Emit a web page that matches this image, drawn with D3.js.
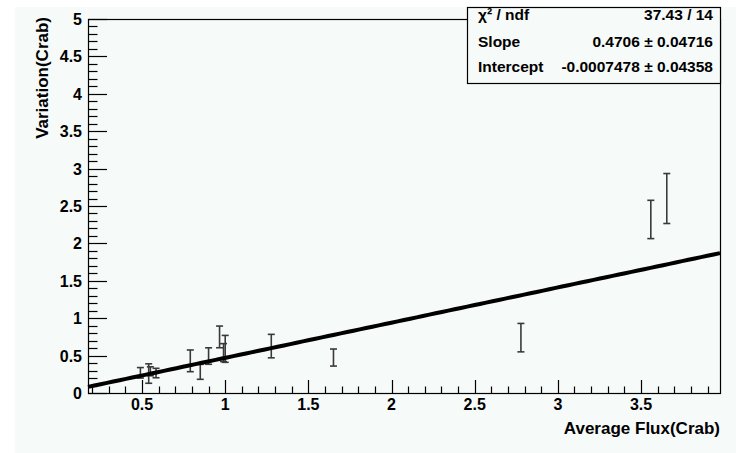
<!DOCTYPE html>
<html>
<head>
<meta charset="utf-8">
<script src="https://cdn.jsdelivr.net/npm/d3@7"></script>
<style>
  html, body { margin: 0; padding: 0; background: #ffffff; }
  svg { display: block; }
  text { font-family: "Liberation Sans", Arial, Helvetica, sans-serif; font-weight: bold; fill: #000; }
</style>
</head>
<body>
<svg id="chart" width="736" height="453"></svg>
<script>
// Measured points: average flux vs variation, both in Crab units
const fluxValues      = [0.49, 0.54, 0.55, 0.584, 0.79, 0.85, 0.90, 0.966, 0.99, 1.00, 1.277, 1.651, 2.778, 3.559, 3.655];
const variationValues = [0.27, 0.26, 0.29, 0.267, 0.43, 0.283, 0.494, 0.75, 0.54, 0.59, 0.627, 0.474, 0.74, 2.32, 2.60];
const variationErrors = [0.07, 0.13, 0.06, 0.063, 0.145, 0.10, 0.11, 0.145, 0.12, 0.18, 0.157, 0.114, 0.19, 0.256, 0.334];

// Linear fit result
const fitSlope = 0.4706;
const fitIntercept = -0.0007478;

// Axis ranges and labels
const xDomain = [0.175, 3.975];
const yDomain = [0, 5];
const xTickValues = [0.5, 1, 1.5, 2, 2.5, 3, 3.5];
const xTickLabels = ["0.5", "1", "1.5", "2", "2.5", "3", "3.5"];
const yTickValues = [0, 0.5, 1, 1.5, 2, 2.5, 3, 3.5, 4, 4.5, 5];
const yTickLabels = ["0", "0.5", "1", "1.5", "2", "2.5", "3", "3.5", "4", "4.5", "5"];

// Fit statistics box rows
const statNames  = ["\u03C7\u00B2 / ndf", "Slope", "Intercept"];
const statValues = ["37.43 / 14", "0.4706 \u00B1 0.04716", "-0.0007478 \u00B1 0.04358"];

const svg = d3.select("#chart");
const bg = "#f6faf8";

// canvas
svg.append("rect").attr("x", 15).attr("y", 7).attr("width", 721).attr("height", 446).attr("fill", bg);

const frame = { left: 88, right: 720, top: 19, bottom: 393 };
const x = d3.scaleLinear().domain(xDomain).range([frame.left, frame.right]);
const y = d3.scaleLinear().domain(yDomain).range([frame.bottom, frame.top]);

// plot frame
svg.append("rect")
  .attr("x", frame.left + 0.5).attr("y", frame.top + 0.5)
  .attr("width", frame.right - frame.left).attr("height", frame.bottom - frame.top)
  .attr("fill", bg).attr("stroke", "#000").attr("stroke-width", 1.2);

const isMajor = (vals, d) => vals.some(v => Math.abs(v - d) < 1e-6);

// x axis ticks (drawn inward, upward)
const xMinor = x.ticks(40);
svg.append("g").selectAll("line").data(xMinor).join("line")
  .attr("x1", d => Math.round(x(d)) + 0.5).attr("x2", d => Math.round(x(d)) + 0.5)
  .attr("y1", frame.bottom).attr("y2", d => frame.bottom - (isMajor(xTickValues, d) ? 13 : 6.5))
  .attr("stroke", "#000").attr("stroke-width", 1.2);

svg.append("g").selectAll("text").data(xTickValues).join("text")
  .attr("x", d => x(d)).attr("y", 410)
  .attr("text-anchor", "middle").attr("font-size", 16)
  .text((d, i) => xTickLabels[i]);

// y axis ticks (drawn inward, rightward)
const yMinor = y.ticks(50);
svg.append("g").selectAll("line").data(yMinor).join("line")
  .attr("y1", d => Math.round(y(d)) + 0.5).attr("y2", d => Math.round(y(d)) + 0.5)
  .attr("x1", frame.left).attr("x2", d => frame.left + (isMajor(yTickValues, d) ? 19 : 9.5))
  .attr("stroke", "#000").attr("stroke-width", 1.2);

svg.append("g").selectAll("text").data(yTickValues).join("text")
  .attr("x", 82).attr("y", d => y(d) + 6)
  .attr("text-anchor", "end").attr("font-size", 16)
  .text((d, i) => yTickLabels[i]);

// axis titles
svg.append("text")
  .attr("x", 720).attr("y", 434)
  .attr("text-anchor", "end").attr("font-size", 17)
  .text("Average Flux(Crab)");

svg.append("text")
  .attr("transform", "translate(48,17) rotate(-90)")
  .attr("text-anchor", "end").attr("font-size", 17)
  .text("Variation(Crab)");

// error bars
const pts = fluxValues.map((f, i) => ({ f, v: variationValues[i], e: variationErrors[i] }));
const eb = svg.append("g").attr("stroke", "#3a3a3a").attr("stroke-width", 1.6);
pts.forEach(p => {
  const cx = x(p.f), y0 = y(p.v - p.e), y1 = y(p.v + p.e);
  eb.append("line").attr("x1", cx).attr("x2", cx).attr("y1", y0).attr("y2", y1);
  eb.append("line").attr("x1", cx - 3.5).attr("x2", cx + 3.5).attr("y1", y0).attr("y2", y0);
  eb.append("line").attr("x1", cx - 3.5).attr("x2", cx + 3.5).attr("y1", y1).attr("y2", y1);
});

// fit line
const fitX = d3.range(0, 101).map(i => xDomain[0] + (xDomain[1] - xDomain[0]) * i / 100);
svg.append("path")
  .datum(fitX)
  .attr("fill", "none").attr("stroke", "#000").attr("stroke-width", 4)
  .attr("d", d3.line().x(d => x(d)).y(d => y(fitSlope * d + fitIntercept)));

// statistics box
const box = { x: 467, y: 7, w: 253, h: 76 };
svg.append("rect")
  .attr("x", box.x + 0.5).attr("y", box.y + 0.5).attr("width", box.w).attr("height", box.h)
  .attr("fill", bg).attr("stroke", "#000").attr("stroke-width", 1.2);
const rowY = [20, 47, 72];
svg.append("g").selectAll("text").data(statNames).join("text")
  .attr("x", box.x + 11).attr("y", (d, i) => rowY[i])
  .attr("font-size", 15.5).text(d => d);
svg.append("g").selectAll("text").data(statValues).join("text")
  .attr("x", box.x + box.w - 7).attr("y", (d, i) => rowY[i])
  .attr("text-anchor", "end").attr("font-size", 15.5).text(d => d);
</script>
</body>
</html>
